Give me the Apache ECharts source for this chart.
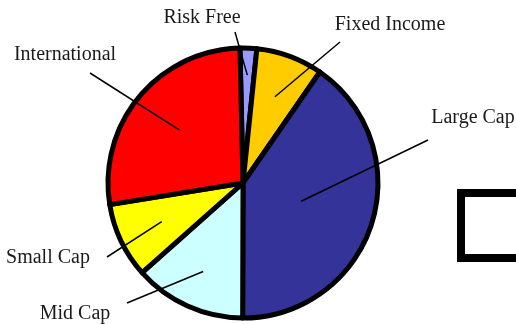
<!DOCTYPE html>
<html>
<head>
<meta charset="utf-8">
<script src="https://cdn.jsdelivr.net/npm/echarts@6/dist/echarts.min.js"></script>
<style>
html,body{margin:0;padding:0;background:#fff;}
#chart{width:516px;height:324px;}
</style>
</head>
<body>
<div id="chart"></div>
<script>
// ---- data ----
const categories = ['Risk Free', 'Fixed Income', 'Large Cap', 'Mid Cap', 'Small Cap', 'International'];
const values = [2, 8, 40.4, 13.4, 9, 27.2];
const colors = ['#9999FF', '#FFCC00', '#333399', '#CCFFFF', '#FFFF00', '#FF0000'];

// ---- layout (label placement) ----
const CENTER = [243, 183];
const RADIUS = 135;
const START_OFFSET = -1.3; // degrees clockwise from 12 o'clock
const labelCenters = [[202, 17.5], [390, 25], [473, 118], [75, 314], [48, 258], [65, 54.5]];
const lineOuter = [[235, 32], [340, 42], [428, 140], [127, 303], [107, 257], [90, 73]];
const lineInnerR = [108, 92, 61, 97, 90, 83];

const total = values.reduce((a, b) => a + b, 0);
function innerPoint(i) {
  let before = 0;
  for (let k = 0; k < i; k++) before += values[k];
  const mid = START_OFFSET + (before + values[i] / 2) / total * 360;
  const rad = mid * Math.PI / 180;
  return [CENTER[0] + lineInnerR[i] * Math.sin(rad), CENTER[1] - lineInnerR[i] * Math.cos(rad)];
}

const pieData = categories.map((c, i) => ({name: c, value: values[i], itemStyle: {color: colors[i]}}));

const chart = echarts.init(document.getElementById('chart'), null, {renderer: 'canvas'});
chart.setOption({
  animation: false,
  backgroundColor: '#ffffff',
  graphic: [{
    type: 'rect',
    shape: {x: 461, y: 193, width: 120, height: 65},
    style: {fill: 'none', stroke: '#000000', lineWidth: 8}
  }],
  series: [{
    type: 'pie',
    z: 2,
    center: CENTER,
    radius: RADIUS,
    startAngle: 90 - START_OFFSET,
    clockwise: true,
    silent: true,
    data: pieData,
    itemStyle: {borderColor: '#000000', borderWidth: 5},
    emphasis: {disabled: true},
    label: {show: false},
    labelLine: {show: false}
  }, {
    type: 'pie',
    z: 5,
    center: CENTER,
    radius: RADIUS,
    startAngle: 90 - START_OFFSET,
    clockwise: true,
    avoidLabelOverlap: false,
    silent: true,
    data: categories.map((c, i) => ({name: c, value: values[i]})),
    itemStyle: {color: 'rgba(0,0,0,0)', borderWidth: 0},
    emphasis: {disabled: true},
    label: {
      show: true,
      formatter: '{b}',
      fontFamily: 'Liberation Serif',
      fontSize: 20,
      color: '#1a1a1a'
    },
    labelLine: {
      show: true,
      lineStyle: {color: '#000000', width: 1.5}
    },
    labelLayout: function (params) {
      const i = params.dataIndex;
      const o = lineOuter[i];
      const inn = innerPoint(i);
      return {
        x: labelCenters[i][0],
        y: labelCenters[i][1],
        align: 'center',
        verticalAlign: 'middle',
        labelLinePoints: [o, o, inn]
      };
    }
  }]
});
</script>
</body>
</html>
